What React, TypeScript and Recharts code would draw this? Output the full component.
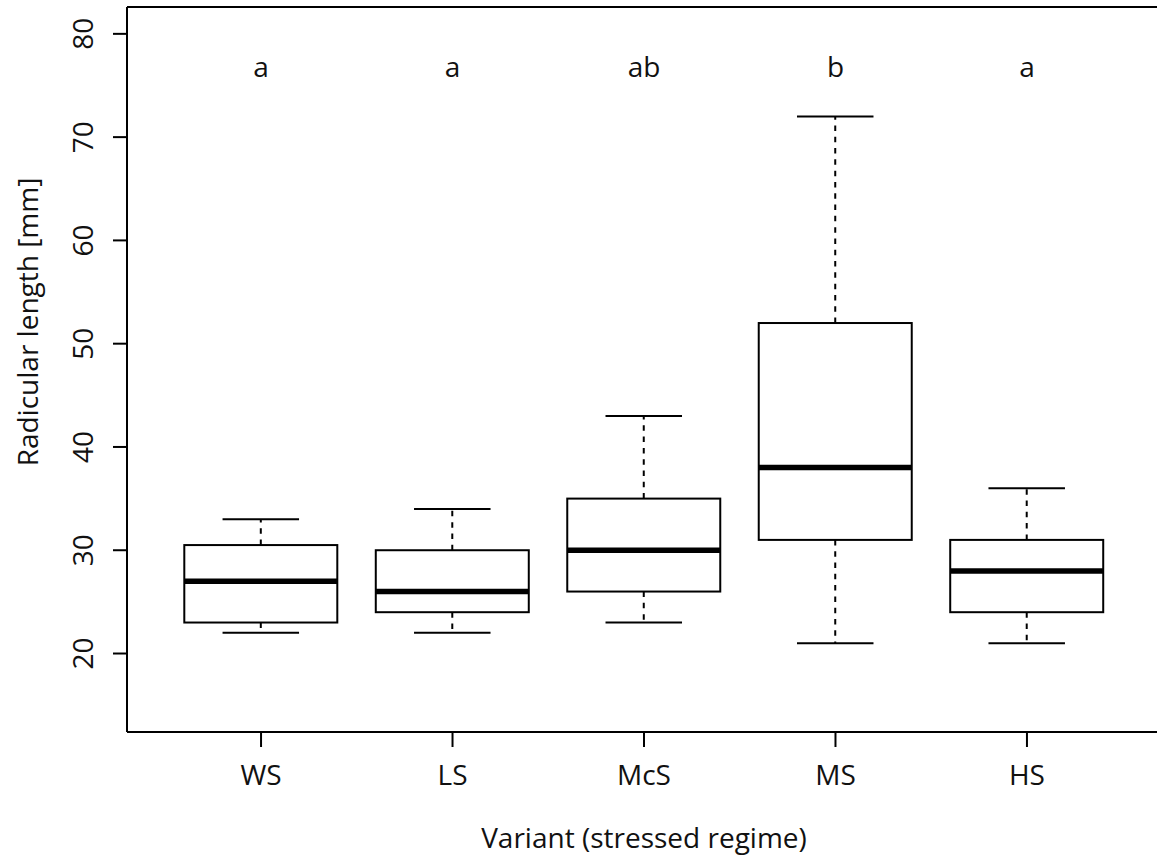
import { ComposedChart, Bar, XAxis, YAxis, Scatter, Label } from 'recharts';

// values
const variants = ['WS', 'LS', 'McS', 'MS', 'HS'];
const whiskerLow = [22, 22, 23, 21, 21];
const quartile1 = [23, 24, 26, 31, 24];
const medians = [27, 26, 30, 38, 28];
const quartile3 = [30.5, 30, 35, 52, 31];
const whiskerHigh = [33, 34, 43, 72, 36];
const groupLetters = ['a', 'a', 'ab', 'b', 'a'];
const yTicks = [20, 30, 40, 50, 60, 70, 80];
const LETTER_Y = 77;
const Y_DOMAIN: [number, number] = [12.4, 82.6];

const data = variants.map((v, i) => ({
  variant: v,
  range: [whiskerLow[i], whiskerHigh[i]],
  min: whiskerLow[i],
  q1: quartile1[i],
  median: medians[i],
  q3: quartile3[i],
  max: whiskerHigh[i],
  letter: groupLetters[i],
  letterY: LETTER_Y,
}));

const FONT = '"Open Sans", sans-serif';
const FS = 28;
const frameLine = { stroke: '#000', strokeWidth: 2 };

function BoxShape(props: any) {
  const { x, y, width, height, payload } = props;
  const top = Math.min(y, y + height);
  const h = Math.abs(height);
  const span = payload.max - payload.min;
  // map a value onto the bar's pixel span (bar runs min..max on the y scale)
  const py = (v: number) => top + ((payload.max - v) / span) * h;
  const cx = x + width / 2;
  const capHalf = width / 4;
  return (
    <g>
      <line x1={cx} x2={cx} y1={py(payload.q3)} y2={py(payload.max)} stroke="#000" strokeWidth={2} strokeDasharray="5.5 5.8" />
      <line x1={cx} x2={cx} y1={py(payload.q1)} y2={py(payload.min)} stroke="#000" strokeWidth={2} strokeDasharray="5.5 5.8" />
      <line x1={cx - capHalf} x2={cx + capHalf} y1={py(payload.max)} y2={py(payload.max)} stroke="#000" strokeWidth={2} />
      <line x1={cx - capHalf} x2={cx + capHalf} y1={py(payload.min)} y2={py(payload.min)} stroke="#000" strokeWidth={2} />
      <rect x={x} y={py(payload.q3)} width={width} height={py(payload.q1) - py(payload.q3)} fill="#fff" stroke="#000" strokeWidth={2} />
      <line x1={x} x2={x + width} y1={py(payload.median)} y2={py(payload.median)} stroke="#000" strokeWidth={5.5} />
    </g>
  );
}

function LetterShape(props: any) {
  const { cx, cy, payload } = props;
  return (
    <text x={cx} y={cy + 12} textAnchor="middle" fontFamily={FONT} fontSize={FS} fill="#111">
      {payload.letter}
    </text>
  );
}

function YTick({ y, payload }: any) {
  return (
    <text x={93} y={y} transform={`rotate(-90, 93, ${y})`} textAnchor="middle" fontFamily={FONT} fontSize={FS} fill="#111">
      {payload.value}
    </text>
  );
}

function XTick({ x, payload }: any) {
  return (
    <text x={x} y={785} textAnchor="middle" fontFamily={FONT} fontSize={FS} fill="#111">
      {payload.value}
    </text>
  );
}

export default function App() {
  return (
    <div style={{ position: 'absolute', left: 0, top: 0, width: 1157, height: 857, overflow: 'hidden', background: '#fff' }}>
      <ComposedChart width={1162} height={857} data={data} margin={{ top: 6, right: 1, bottom: 0, left: 0 }}>
        <XAxis
          dataKey="variant"
          type="category"
          height={125}
          padding={{ left: 38.3, right: 38.3 }}
          axisLine={frameLine}
          tickLine={frameLine}
          tickSize={15}
          tick={<XTick />}
          interval={0}
        >
          <Label
            content={() => (
              <text x={644} y={848} textAnchor="middle" fontFamily={FONT} fontSize={FS} fill="#111">
                Variant (stressed regime)
              </text>
            )}
          />
        </XAxis>
        {/* top edge of the plot frame */}
        <XAxis
          xAxisId="top"
          dataKey="variant"
          orientation="top"
          height={1}
          padding={{ left: 38.3, right: 38.3 }}
          axisLine={frameLine}
          tickLine={false}
          tick={false}
        />
        <YAxis
          type="number"
          width={127}
          domain={Y_DOMAIN}
          ticks={yTicks}
          allowDataOverflow
          axisLine={frameLine}
          tickLine={frameLine}
          tickSize={14}
          tick={<YTick />}
        >
          <Label
            content={() => (
              <text x={38} y={322} transform="rotate(-90, 38, 322)" textAnchor="middle" fontFamily={FONT} fontSize={FS} fill="#111">
                Radicular length [mm]
              </text>
            )}
          />
        </YAxis>
        {/* right edge of the plot frame, falls just outside the picture */}
        <YAxis yAxisId="right" orientation="right" width={0} domain={Y_DOMAIN} axisLine={frameLine} tickLine={false} tick={false} />
        <Bar dataKey="range" barSize={153} shape={<BoxShape />} isAnimationActive={false} />
        <Scatter dataKey="letterY" shape={<LetterShape />} isAnimationActive={false} />
      </ComposedChart>
    </div>
  );
}
